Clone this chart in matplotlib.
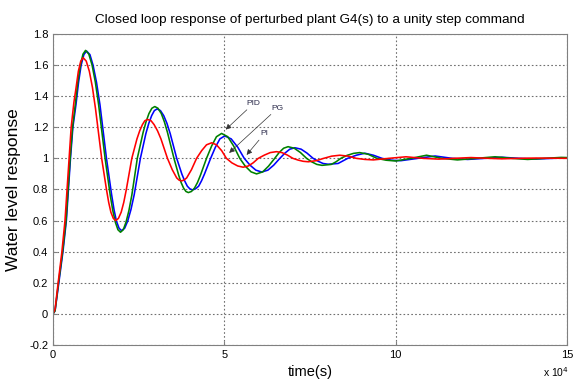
import numpy as np
import matplotlib
matplotlib.use('Agg')
from matplotlib import pyplot as plt

# time axis in units of 1e4 s
t_red = [0, 0.06, 0.15, 0.26, 0.35, 0.41, 0.47, 0.53, 0.61, 0.74, 0.88,
         1.06, 1.24, 1.42, 1.56, 1.69, 1.83, 1.99, 2.14, 2.30, 2.45, 2.61, 2.76,
         2.95, 3.15, 3.34, 3.48, 3.61, 3.75, 3.90, 4.04, 4.19, 4.34, 4.48, 4.63,
         4.77, 4.92, 5.06, 5.22, 5.39, 5.55, 5.70, 5.84, 5.99, 6.17, 6.34, 6.52,
         6.68, 6.84, 7.00, 7.15, 7.30, 7.45, 7.68, 7.90, 8.13, 8.37, 8.62, 8.85,
         9.10, 9.35, 9.80, 10.3, 10.8, 11.25, 11.7, 12.2, 12.7, 13.1, 13.6, 14.1, 15.0]
y_red = [0, 0.03, 0.2, 0.4, 0.6, 0.8, 1.0, 1.2, 1.36, 1.56, 1.647,
         1.56, 1.32, 1.0, 0.80, 0.653, 0.60, 0.654, 0.80, 1.0, 1.125, 1.217, 1.25,
         1.217, 1.125, 1.0, 0.927, 0.874, 0.855, 0.874, 0.927, 1.0, 1.05, 1.087, 1.10,
         1.087, 1.05, 1.0, 0.971, 0.951, 0.943, 0.951, 0.971, 1.0, 1.021, 1.037, 1.043,
         1.037, 1.021, 1.0, 0.989, 0.981, 0.978, 0.985, 1.0, 1.014, 1.02, 1.014, 1.0,
         0.993, 0.99, 1.0, 1.01, 1.0, 0.995, 1.0, 1.005, 1.0, 0.997, 1.0, 1.002, 1.0]
# extra readings around the big peaks and dips
t_red_pk = [0.675, 0.81, 0.97, 1.15, 1.625, 1.76, 1.91, 2.065, 2.53, 2.68, 2.86, 3.05, 3.68, 3.82]
y_red_pk = [1.457, 1.625, 1.625, 1.457, 0.717, 0.614, 0.614, 0.717, 1.177, 1.242, 1.242, 1.177, 0.86, 0.86]

t_green = [0, 0.06, 0.16, 0.28, 0.38, 0.44, 0.50, 0.57, 0.65, 0.80, 0.95,
           1.14, 1.33, 1.52, 1.67, 1.82, 1.97, 2.13, 2.30, 2.46, 2.63, 2.80, 2.97,
           3.16, 3.34, 3.53, 3.67, 3.81, 3.95, 4.13, 4.30, 4.48, 4.63, 4.77, 4.92,
           5.10, 5.27, 5.45, 5.61, 5.78, 5.94, 6.12, 6.29, 6.47, 6.60, 6.73, 6.86,
           7.04, 7.22, 7.40, 7.55, 7.70, 7.85, 8.12, 8.26, 8.40, 8.58, 8.77, 8.95,
           9.20, 9.45, 9.72, 10.0, 10.45, 10.9, 11.35, 11.8, 12.35, 12.9, 13.4, 13.85,
           14.35, 14.83, 15.0]
y_green = [0, 0.02, 0.2, 0.4, 0.6, 0.8, 1.0, 1.2, 1.347, 1.60, 1.694,
           1.60, 1.347, 1.0, 0.763, 0.589, 0.525, 0.589, 0.763, 1.0, 1.167, 1.288, 1.333,
           1.288, 1.167, 1.0, 0.89, 0.809, 0.78, 0.809, 0.89, 1.0, 1.08, 1.139, 1.16,
           1.139, 1.08, 1.0, 0.95, 0.913, 0.90, 0.913, 0.95, 1.0, 1.0375, 1.065, 1.075,
           1.065, 1.0375, 1.0, 0.9775, 0.961, 0.955, 0.961, 0.978, 1.0, 1.019, 1.032, 1.037,
           1.026, 1.0, 0.988, 0.983, 1.0, 1.02, 1.0, 0.99, 1.0, 1.01, 1.0, 0.993,
           1.0, 1.006, 1.005]
t_green_pk = [0.725, 0.875, 1.045, 1.235, 1.745, 1.895, 2.05, 2.215, 2.715, 2.885, 3.063, 3.25, 3.74, 3.88, 4.04, 4.215]
y_green_pk = [1.491, 1.670, 1.670, 1.491, 0.664, 0.541, 0.541, 0.664, 1.235, 1.322, 1.322, 1.235, 0.844, 0.787, 0.787, 0.844]

t_blue = [0, 0.06, 0.17, 0.29, 0.39, 0.45, 0.51, 0.58, 0.67, 0.82, 0.98,
          1.17, 1.37, 1.56, 1.71, 1.85, 2.00, 2.18, 2.37, 2.55, 2.71, 2.88, 3.04,
          3.23, 3.42, 3.61, 3.76, 3.92, 4.07, 4.25, 4.42, 4.60, 4.74, 4.87, 5.01,
          5.20, 5.39, 5.58, 5.75, 5.92, 6.09, 6.27, 6.44, 6.62, 6.77, 6.91, 7.06,
          7.24, 7.41, 7.59, 7.74, 7.88, 8.03, 8.32, 8.60, 8.85, 9.10, 9.35, 9.60,
          9.88, 10.15, 10.65, 11.15, 11.65, 12.1, 12.6, 13.1, 13.6, 14.1, 14.6, 15.0]
y_blue = [0, 0.02, 0.2, 0.4, 0.6, 0.8, 1.0, 1.2, 1.345, 1.598, 1.69,
          1.598, 1.345, 1.0, 0.767, 0.597, 0.535, 0.597, 0.767, 1.0, 1.159, 1.275, 1.318,
          1.275, 1.159, 1.0, 0.899, 0.821, 0.797, 0.821, 0.899, 1.0, 1.072, 1.125, 1.144,
          1.125, 1.072, 1.0, 0.956, 0.924, 0.912, 0.924, 0.956, 1.0, 1.034, 1.059, 1.068,
          1.059, 1.034, 1.0, 0.981, 0.967, 0.962, 0.967, 1.0, 1.02, 1.033, 1.02, 1.0,
          0.988, 0.985, 1.0, 1.015, 1.0, 0.993, 1.0, 1.007, 1.0, 0.996, 1.0, 1.003]
t_blue_pk = [0.745, 0.90, 1.077, 1.27, 1.78, 1.927, 2.092, 2.275, 2.795, 2.958, 3.135, 3.325, 3.84, 3.993, 4.158, 4.335]
y_blue_pk = [1.488, 1.667, 1.667, 1.488, 0.671, 0.551, 0.551, 0.671, 1.225, 1.307, 1.307, 1.225, 0.856, 0.804, 0.804, 0.856]

x_ticks = [0, 5, 10, 15]
y_ticks = [-0.2, 0, 0.2, 0.4, 0.6, 0.8, 1, 1.2, 1.4, 1.6, 1.8]
y_tick_labels = ['-0.2', '0', '0.2', '0.4', '0.6', '0.8', '1', '1.2', '1.4', '1.6', '1.8']

# annotation labels: (text, text position, arrow tip)
notes = [('PID', (5.65, 1.33), (5.04, 1.185)),
         ('PG', (6.38, 1.30), (5.14, 1.035)),
         ('PI', (6.05, 1.135), (5.65, 1.022))]


def merged(t, y, t_extra, y_extra):
    # put the extra readings in time order with the main ones
    tt = np.concatenate([t, t_extra])
    yy = np.concatenate([y, y_extra])
    order = np.argsort(tt, kind='stable')
    return tt[order], yy[order]


plt.rcParams['font.family'] = ['Liberation Sans', 'DejaVu Sans']

fig = plt.figure(figsize=(5.78, 3.81), dpi=100)
ax = fig.add_axes([0.0917, 0.0945, 0.8893, 0.8165])

for t, y, te, ye, c in [(t_blue, y_blue, t_blue_pk, y_blue_pk, '#0000ff'),
                        (t_green, y_green, t_green_pk, y_green_pk, '#008000'),
                        (t_red, y_red, t_red_pk, y_red_pk, '#ff0000')]:
    tt, yy = merged(t, y, te, ye)
    ax.plot(tt, yy, color=c, lw=1.15)

ax.set_xlim(0, 15)
ax.set_ylim(-0.2, 1.8)
ax.set_xticks(x_ticks)
ax.set_yticks(y_ticks)
ax.set_yticklabels(y_tick_labels)
ax.tick_params(direction='in', length=3, labelsize=8, color='#808080')
ax.grid(True, linestyle=(0, (1.5, 2)), color='#707070', lw=0.8)
for s in ax.spines.values():
    s.set_color('#808080')

for txt, xy_text, xy_tip in notes:
    ax.annotate(txt, xy=xy_tip, xytext=xy_text, fontsize=6, color='#2a2a4a',
                ha='left', va='bottom',
                arrowprops=dict(arrowstyle='-|>', color='#333333', lw=0.5,
                                mutation_scale=8, shrinkA=0, shrinkB=0))

ax.set_title('Closed loop response of perturbed plant G4(s) to a unity step command',
             fontsize=9.7, pad=8)
ax.set_xlabel('time(s)', fontsize=10.5, labelpad=4)
ax.set_ylabel('Water level response', fontsize=12.5, labelpad=6)
fig.text(0.94, 0.005, 'x 10$^4$', fontsize=7.5, ha='left', va='bottom')

fig.savefig('out.png', dpi=100)
